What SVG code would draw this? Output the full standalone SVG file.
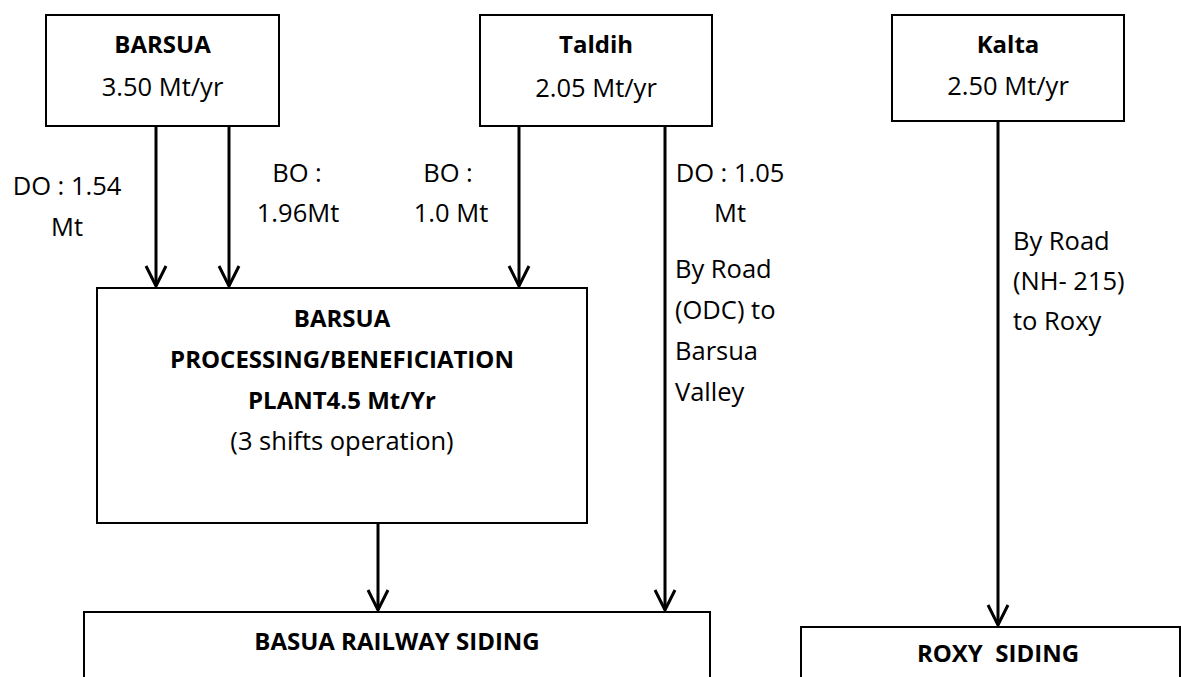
<svg xmlns="http://www.w3.org/2000/svg" width="1181" height="677" viewBox="0 0 1181 677">
<defs>
<marker id="arr" markerWidth="24" markerHeight="24" viewBox="-22 -12 24 24" refX="0" refY="0" markerUnits="userSpaceOnUse" orient="auto">
<path d="M-20,-10 L0,0 L-20,10" fill="none" stroke="#000" stroke-width="3"/>
</marker>
</defs>
<style>
.box{fill:#fff;stroke:#000;stroke-width:2}
.t{font-family:"Open Sans","Liberation Sans",sans-serif;font-size:25.5px;fill:#000}
.b{font-family:"Open Sans","Liberation Sans",sans-serif;font-size:24px;font-weight:bold;fill:#000}
.c{text-anchor:middle}
.ln{stroke:#000;stroke-width:3;fill:none}
</style>
<rect width="1181" height="677" fill="#fff"/>
<g id="connectors">
<line class="ln" x1="156" y1="126" x2="156" y2="286" marker-end="url(#arr)"/>
<line class="ln" x1="229" y1="126" x2="229" y2="286" marker-end="url(#arr)"/>
<line class="ln" x1="519" y1="126" x2="519" y2="286" marker-end="url(#arr)"/>
<line class="ln" x1="665" y1="126" x2="665" y2="610" marker-end="url(#arr)"/>
<line class="ln" x1="378" y1="523" x2="378" y2="610" marker-end="url(#arr)"/>
<line class="ln" x1="998" y1="121" x2="998" y2="625" marker-end="url(#arr)"/>
<text class="t c" x="67" y="195">DO : 1.54</text>
<text class="t c" x="67" y="236">Mt</text>
<text class="t c" x="297" y="182">BO :</text>
<text class="t c" x="298" y="222">1.96Mt</text>
<text class="t c" x="448" y="182">BO :</text>
<text class="t c" x="451" y="222">1.0 Mt</text>
<text class="t c" x="730" y="182">DO : 1.05</text>
<text class="t c" x="730" y="222">Mt</text>
<text class="t" x="675" y="278">By Road</text>
<text class="t" x="675" y="319">(ODC) to</text>
<text class="t" x="675" y="360">Barsua</text>
<text class="t" x="675" y="401">Valley</text>
<text class="t" x="1013" y="250">By Road</text>
<text class="t" x="1013" y="290">(NH- 215)</text>
<text class="t" x="1013" y="330">to Roxy</text>
</g>
<g id="barsua">
<rect class="box" x="46" y="15" width="233" height="111"/>
<text class="b c" x="162.5" y="53">BARSUA</text>
<text class="t c" x="162.5" y="96">3.50 Mt/yr</text>
</g>
<g id="taldih">
<rect class="box" x="480" y="15" width="232" height="111"/>
<text class="b c" x="596" y="53">Taldih</text>
<text class="t c" x="596" y="97">2.05 Mt/yr</text>
</g>
<g id="kalta">
<rect class="box" x="892" y="15" width="232" height="106"/>
<text class="b c" x="1008" y="53">Kalta</text>
<text class="t c" x="1008" y="95">2.50 Mt/yr</text>
</g>
<g id="plant">
<rect class="box" x="97" y="288" width="490" height="235"/>
<text class="b c" x="342" y="327">BARSUA</text>
<text class="b c" x="342" y="368">PROCESSING/BENEFICIATION</text>
<text class="b c" x="342" y="409">PLANT4.5 Mt/Yr</text>
<text class="t c" x="342" y="450">(3 shifts operation)</text>
</g>
<g id="railway">
<rect class="box" x="84" y="612" width="626" height="80"/>
<text class="b c" x="397" y="650">BASUA RAILWAY SIDING</text>
</g>
<g id="roxy">
<rect class="box" x="801" y="627" width="379" height="70"/>
<text class="b c" x="998" y="662" xml:space="preserve">ROXY  SIDING</text>
</g>
</svg>
